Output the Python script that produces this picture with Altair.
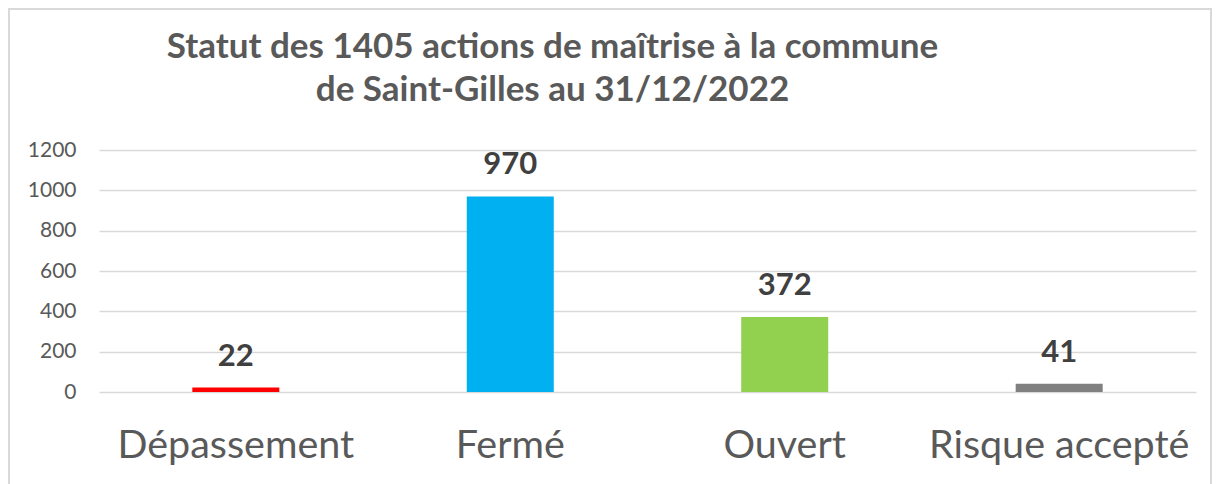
import altair as alt
import pandas as pd

categories = ["Dépassement", "Fermé", "Ouvert", "Risque accepté"]
values = [22, 970, 372, 41]
colors = ["#ff0000", "#00b0f0", "#92d050", "#808080"]
title_lines = ["Statut des 1405 actions de maîtrise à la commune", "de Saint-Gilles au 31/12/2022"]

df = pd.DataFrame({"cat": categories, "val": values, "color": colors})

W, H = 1097, 242
PL, PT, PR, PB = 91, 142, 19, 92

x = alt.X("cat:N", sort=categories, title=None,
          scale=alt.Scale(paddingInner=0.683, paddingOuter=0.34),
          axis=alt.Axis(labelAngle=0, labelFont="Lato", labelFontSize=39.5,
                        labelColor="#595959", labelPadding=34, ticks=False,
                        domain=False, grid=False, labelLimit=0))
y = alt.Y("val:Q", title=None,
          scale=alt.Scale(domain=[0, 1200], nice=False),
          axis=alt.Axis(values=[0, 200, 400, 600, 800, 1000, 1200], format="d",
                        labelFont="Lato", labelFontSize=21, labelColor="#595959",
                        labelPadding=23, ticks=False, domain=False,
                        grid=True, gridColor="#d9d9d9", gridWidth=1.5))

base = alt.Chart(df)
bars = base.mark_bar().encode(x=x, y=y, color=alt.Color("color:N", scale=None))
labels = base.mark_text(dy=-15, baseline="bottom", font="Lato", fontWeight="bold",
                        fontSize=31, color="#404040").encode(
    x=alt.X("cat:N", sort=categories), y="val:Q", text="val:Q")

frame = alt.Chart(pd.DataFrame({"k": [0]})).mark_rect(
    fill=None, stroke="#d9d9d9", strokeWidth=2, clip=False).encode(
    x=alt.value(-90), x2=alt.value(1112), y=alt.value(-141), y2=alt.value(350))

chart = alt.layer(frame, bars, labels).properties(
    width=W, height=H,
    background="white",
    padding={"left": PL, "top": PT, "right": PR, "bottom": PB},
    autosize=alt.AutoSizeParams(type="none"),
    title=alt.TitleParams(title_lines, font="Lato", fontSize=35, fontWeight="bold",
                          color="#595959", anchor="middle", frame="group",
                          dx=-95, offset=-100, lineHeight=43),
).configure_view(stroke="transparent", strokeWidth=0)

chart.save("out.html", embed_options={"renderer": "svg", "actions": False})
